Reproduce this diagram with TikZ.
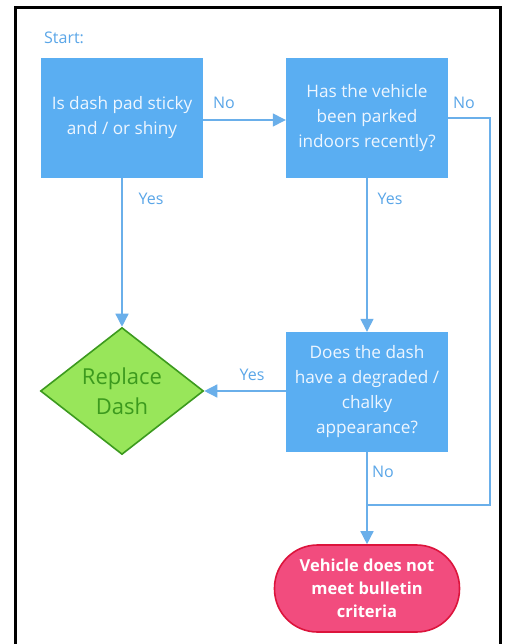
\documentclass[tikz,border=0pt]{standalone}
\usepackage{fontspec}
\setmainfont{Open Sans}
\usetikzlibrary{shapes.geometric,arrows.meta}
\definecolor{boxblue}{HTML}{5AAEF2}
\definecolor{lineblue}{HTML}{6AAFEA}
\definecolor{lblblue}{HTML}{5AA6E8}
\definecolor{boxtxt}{HTML}{EEF6FF}
\definecolor{dgfill}{HTML}{98E65A}
\definecolor{dgdraw}{HTML}{3C9A1E}
\definecolor{pkfill}{HTML}{F24C7E}
\definecolor{pkdraw}{HTML}{DC143C}
\tikzset{
  qbox/.style={rectangle, fill=boxblue, minimum width=162pt, minimum height=120pt, align=center, text=boxtxt, font=\fontsize{17.2}{25}\selectfont, inner sep=0pt},
  conn/.style={draw=lineblue, line width=1.4pt},
  arr/.style={conn, -{Triangle[width=13pt,length=13pt]}},
  lbl/.style={text=lblblue, font=\fontsize{16}{18}\selectfont, inner sep=0pt}
}
\begin{document}
\begin{tikzpicture}[x=1pt,y=-1pt]
\useasboundingbox (0,0) rectangle (505,644);
\fill[white] (0,0) rectangle (505,644);
\draw[black, line width=2.2pt] (15.5,650) -- (15.5,7.5) -- (500.5,7.5) -- (500.5,650);
\node[lbl, anchor=west] (start) at (44,38) {Start:};
\node[qbox] (b1) at (122,118) {Is dash pad sticky\\and / or shiny};
\node[qbox] (b2) at (367,118) {Has the vehicle\\been parked\\indoors recently?};
\node[qbox] (b3) at (367,392) {Does the dash\\have a degraded /\\chalky\\appearance?};
\node[diamond, fill=dgfill, draw=dgdraw, line width=1.6pt, minimum width=163pt, minimum height=123pt, inner sep=0pt, text=dgdraw, align=center, font=\fontsize{22}{30}\selectfont] (d) at (122,391) {Replace\\Dash};
\node[rectangle, rounded corners=43pt, fill=pkfill, draw=pkdraw, line width=1.6pt, minimum width=185pt, minimum height=87pt, inner sep=0pt, text=white, align=center, font=\bfseries\fontsize{16.5}{23}\selectfont] (e) at (367,588.5) {Vehicle does not\\meet bulletin\\criteria};
\coordinate (j) at (367,505);
\coordinate (r1) at (490,118);
\coordinate (r2) at (490,505);
\draw[arr] (b1.east |- 0,120) -- (b2.west |- 0,120);
\draw[arr] (b1.south) -- (d.north);
\draw[arr] (b2.south) -- (b3.north);
\draw[arr] (b3.west |- 0,391) -- (d.east);
\draw[arr] (b3.south) -- (e.north);
\draw[conn] (b2.east) -- (r1) -- (r2) -- (j);
\node[lbl] (n1) at (224,103) {No};
\node[lbl] (n2) at (464,103) {No};
\node[lbl] (y1) at (151,199) {Yes};
\node[lbl] (y2) at (390,199) {Yes};
\node[lbl] (y3) at (252,375) {Yes};
\node[lbl] (n3) at (383,472) {No};
\end{tikzpicture}
\end{document}
